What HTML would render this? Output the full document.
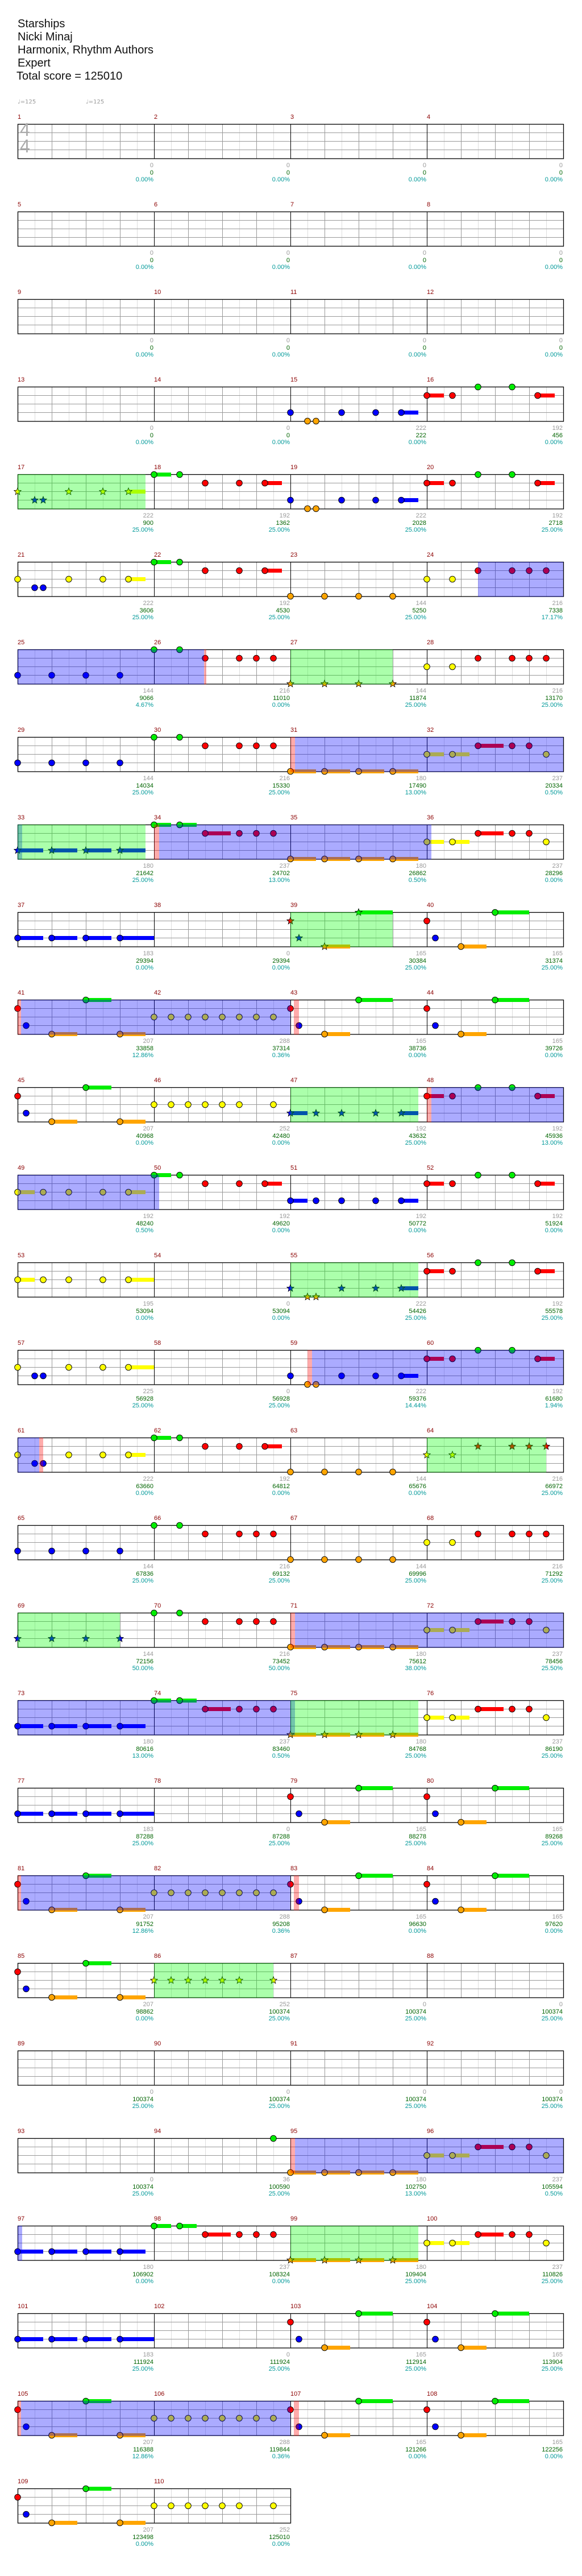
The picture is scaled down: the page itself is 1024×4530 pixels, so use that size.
<!DOCTYPE html>
<html><head><meta charset="utf-8">
<style>
html,body{margin:0;padding:0;background:#fff;}
body{width:1024px;height:4530px;position:relative;overflow:hidden;font-family:"Liberation Sans","DejaVu Sans",sans-serif;}
#hd{position:absolute;left:31px;top:31px;font-size:20px;line-height:23px;color:#111;}
.tp{position:absolute;top:174px;font-size:10px;color:#999;font-family:"DejaVu Sans","Liberation Sans",sans-serif;}
#ts{position:absolute;left:35px;top:214px;font-size:32px;line-height:29px;color:#aaa;}
svg{position:absolute;left:0;top:0;}
.r{position:absolute;left:31px;width:960px;height:120px;font-size:11px;}
.r p{position:absolute;margin:0;width:240px;height:120px;top:0;color:#8b0000;line-height:11px;}
.r p:nth-child(1){left:0}.r p:nth-child(2){left:240px}.r p:nth-child(3){left:480px}.r p:nth-child(4){left:720px}
.r q{quotes:none;position:absolute;right:1px;top:84px;text-align:right;color:#999;line-height:12.5px;white-space:nowrap;}
.r q:before,.r q:after{content:none}
.r em{font-style:normal;color:#006400}
.r s{text-decoration:none;color:#009999}
</style></head><body>
<svg id="sv" width="1024" height="4530" xmlns="http://www.w3.org/2000/svg"></svg>
<div id="hd">Starships<br>Nicki Minaj<br>Harmonix, Rhythm Authors<br>Expert<br><span style="margin-left:-2px">Total score = 125010</span></div>
<div class="tp" style="left:31px">♩=125</div>
<div class="tp" style="left:151px">♩=125</div>
<div id="ts">4<br>4</div>

<div class="r" style="top:201px"><p>1<q>0<br><em>0</em><br><s>0.00%</s></q></p><p>2<q>0<br><em>0</em><br><s>0.00%</s></q></p><p>3<q>0<br><em>0</em><br><s>0.00%</s></q></p><p>4<q>0<br><em>0</em><br><s>0.00%</s></q></p></div>
<div class="r" style="top:355px"><p>5<q>0<br><em>0</em><br><s>0.00%</s></q></p><p>6<q>0<br><em>0</em><br><s>0.00%</s></q></p><p>7<q>0<br><em>0</em><br><s>0.00%</s></q></p><p>8<q>0<br><em>0</em><br><s>0.00%</s></q></p></div>
<div class="r" style="top:509px"><p>9<q>0<br><em>0</em><br><s>0.00%</s></q></p><p>10<q>0<br><em>0</em><br><s>0.00%</s></q></p><p>11<q>0<br><em>0</em><br><s>0.00%</s></q></p><p>12<q>0<br><em>0</em><br><s>0.00%</s></q></p></div>
<div class="r" style="top:663px"><p>13<q>0<br><em>0</em><br><s>0.00%</s></q></p><p>14<q>0<br><em>0</em><br><s>0.00%</s></q></p><p>15<q>222<br><em>222</em><br><s>0.00%</s></q></p><p>16<q>192<br><em>456</em><br><s>0.00%</s></q></p></div>
<div class="r" style="top:817px"><p>17<q>222<br><em>900</em><br><s>25.00%</s></q></p><p>18<q>192<br><em>1362</em><br><s>25.00%</s></q></p><p>19<q>222<br><em>2028</em><br><s>25.00%</s></q></p><p>20<q>192<br><em>2718</em><br><s>25.00%</s></q></p></div>
<div class="r" style="top:971px"><p>21<q>222<br><em>3606</em><br><s>25.00%</s></q></p><p>22<q>192<br><em>4530</em><br><s>25.00%</s></q></p><p>23<q>144<br><em>5250</em><br><s>25.00%</s></q></p><p>24<q>216<br><em>7338</em><br><s>17.17%</s></q></p></div>
<div class="r" style="top:1125px"><p>25<q>144<br><em>9066</em><br><s>4.67%</s></q></p><p>26<q>216<br><em>11010</em><br><s>0.00%</s></q></p><p>27<q>144<br><em>11874</em><br><s>25.00%</s></q></p><p>28<q>216<br><em>13170</em><br><s>25.00%</s></q></p></div>
<div class="r" style="top:1279px"><p>29<q>144<br><em>14034</em><br><s>25.00%</s></q></p><p>30<q>216<br><em>15330</em><br><s>25.00%</s></q></p><p>31<q>180<br><em>17490</em><br><s>13.00%</s></q></p><p>32<q>237<br><em>20334</em><br><s>0.50%</s></q></p></div>
<div class="r" style="top:1433px"><p>33<q>180<br><em>21642</em><br><s>25.00%</s></q></p><p>34<q>237<br><em>24702</em><br><s>13.00%</s></q></p><p>35<q>180<br><em>26862</em><br><s>0.50%</s></q></p><p>36<q>237<br><em>28296</em><br><s>0.00%</s></q></p></div>
<div class="r" style="top:1587px"><p>37<q>183<br><em>29394</em><br><s>0.00%</s></q></p><p>38<q>0<br><em>29394</em><br><s>0.00%</s></q></p><p>39<q>165<br><em>30384</em><br><s>25.00%</s></q></p><p>40<q>165<br><em>31374</em><br><s>25.00%</s></q></p></div>
<div class="r" style="top:1741px"><p>41<q>207<br><em>33858</em><br><s>12.86%</s></q></p><p>42<q>288<br><em>37314</em><br><s>0.36%</s></q></p><p>43<q>165<br><em>38736</em><br><s>0.00%</s></q></p><p>44<q>165<br><em>39726</em><br><s>0.00%</s></q></p></div>
<div class="r" style="top:1895px"><p>45<q>207<br><em>40968</em><br><s>0.00%</s></q></p><p>46<q>252<br><em>42480</em><br><s>0.00%</s></q></p><p>47<q>192<br><em>43632</em><br><s>25.00%</s></q></p><p>48<q>192<br><em>45936</em><br><s>13.00%</s></q></p></div>
<div class="r" style="top:2049px"><p>49<q>192<br><em>48240</em><br><s>0.50%</s></q></p><p>50<q>192<br><em>49620</em><br><s>0.00%</s></q></p><p>51<q>192<br><em>50772</em><br><s>0.00%</s></q></p><p>52<q>192<br><em>51924</em><br><s>0.00%</s></q></p></div>
<div class="r" style="top:2203px"><p>53<q>195<br><em>53094</em><br><s>0.00%</s></q></p><p>54<q>0<br><em>53094</em><br><s>0.00%</s></q></p><p>55<q>222<br><em>54426</em><br><s>25.00%</s></q></p><p>56<q>192<br><em>55578</em><br><s>25.00%</s></q></p></div>
<div class="r" style="top:2357px"><p>57<q>225<br><em>56928</em><br><s>25.00%</s></q></p><p>58<q>0<br><em>56928</em><br><s>25.00%</s></q></p><p>59<q>222<br><em>59376</em><br><s>14.44%</s></q></p><p>60<q>192<br><em>61680</em><br><s>1.94%</s></q></p></div>
<div class="r" style="top:2511px"><p>61<q>222<br><em>63660</em><br><s>0.00%</s></q></p><p>62<q>192<br><em>64812</em><br><s>0.00%</s></q></p><p>63<q>144<br><em>65676</em><br><s>0.00%</s></q></p><p>64<q>216<br><em>66972</em><br><s>25.00%</s></q></p></div>
<div class="r" style="top:2665px"><p>65<q>144<br><em>67836</em><br><s>25.00%</s></q></p><p>66<q>216<br><em>69132</em><br><s>25.00%</s></q></p><p>67<q>144<br><em>69996</em><br><s>25.00%</s></q></p><p>68<q>216<br><em>71292</em><br><s>25.00%</s></q></p></div>
<div class="r" style="top:2819px"><p>69<q>144<br><em>72156</em><br><s>50.00%</s></q></p><p>70<q>216<br><em>73452</em><br><s>50.00%</s></q></p><p>71<q>180<br><em>75612</em><br><s>38.00%</s></q></p><p>72<q>237<br><em>78456</em><br><s>25.50%</s></q></p></div>
<div class="r" style="top:2973px"><p>73<q>180<br><em>80616</em><br><s>13.00%</s></q></p><p>74<q>237<br><em>83460</em><br><s>0.50%</s></q></p><p>75<q>180<br><em>84768</em><br><s>25.00%</s></q></p><p>76<q>237<br><em>86190</em><br><s>25.00%</s></q></p></div>
<div class="r" style="top:3127px"><p>77<q>183<br><em>87288</em><br><s>25.00%</s></q></p><p>78<q>0<br><em>87288</em><br><s>25.00%</s></q></p><p>79<q>165<br><em>88278</em><br><s>25.00%</s></q></p><p>80<q>165<br><em>89268</em><br><s>25.00%</s></q></p></div>
<div class="r" style="top:3281px"><p>81<q>207<br><em>91752</em><br><s>12.86%</s></q></p><p>82<q>288<br><em>95208</em><br><s>0.36%</s></q></p><p>83<q>165<br><em>96630</em><br><s>0.00%</s></q></p><p>84<q>165<br><em>97620</em><br><s>0.00%</s></q></p></div>
<div class="r" style="top:3435px"><p>85<q>207<br><em>98862</em><br><s>0.00%</s></q></p><p>86<q>252<br><em>100374</em><br><s>25.00%</s></q></p><p>87<q>0<br><em>100374</em><br><s>25.00%</s></q></p><p>88<q>0<br><em>100374</em><br><s>25.00%</s></q></p></div>
<div class="r" style="top:3589px"><p>89<q>0<br><em>100374</em><br><s>25.00%</s></q></p><p>90<q>0<br><em>100374</em><br><s>25.00%</s></q></p><p>91<q>0<br><em>100374</em><br><s>25.00%</s></q></p><p>92<q>0<br><em>100374</em><br><s>25.00%</s></q></p></div>
<div class="r" style="top:3743px"><p>93<q>0<br><em>100374</em><br><s>25.00%</s></q></p><p>94<q>36<br><em>100590</em><br><s>25.00%</s></q></p><p>95<q>180<br><em>102750</em><br><s>13.00%</s></q></p><p>96<q>237<br><em>105594</em><br><s>0.50%</s></q></p></div>
<div class="r" style="top:3897px"><p>97<q>180<br><em>106902</em><br><s>0.00%</s></q></p><p>98<q>237<br><em>108324</em><br><s>0.00%</s></q></p><p>99<q>180<br><em>109404</em><br><s>25.00%</s></q></p><p>100<q>237<br><em>110826</em><br><s>25.00%</s></q></p></div>
<div class="r" style="top:4051px"><p>101<q>183<br><em>111924</em><br><s>25.00%</s></q></p><p>102<q>0<br><em>111924</em><br><s>25.00%</s></q></p><p>103<q>165<br><em>112914</em><br><s>25.00%</s></q></p><p>104<q>165<br><em>113904</em><br><s>25.00%</s></q></p></div>
<div class="r" style="top:4205px"><p>105<q>207<br><em>116388</em><br><s>12.86%</s></q></p><p>106<q>288<br><em>119844</em><br><s>0.36%</s></q></p><p>107<q>165<br><em>121266</em><br><s>0.00%</s></q></p><p>108<q>165<br><em>122256</em><br><s>0.00%</s></q></p></div>
<div class="r" style="top:4359px"><p>109<q>207<br><em>123498</em><br><s>0.00%</s></q></p><p>110<q>252<br><em>125010</em><br><s>0.00%</s></q></p></div>

<script>
(function(){
var P={
15:"B0 O.5 O.75 B1.5 B2.5 B3.25-3.75",
16:"R0-.5 R.75 G1.5 G2.5 R3.25-3.75",
17:"y0 b.5 b.75 y1.5 y2.5 y3.25-3.75",
18:"G0-.5 G.75 R1.5 R2.5 R3.25-3.75",
21:"Y0 B.5 B.75 Y1.5 Y2.5 Y3.25-3.75",
23:"O0 O1 O2 O3",
24:"Y0 Y.75 R1.5 R2.5 R3 R3.5",
25:"B0 B1 B2 B3",
26:"G0 G.75 R1.5 R2.5 R3 R3.5",
27:"o0 o1 o2 o3",
31:"O0-.75 O1-1.75 O2-2.75 O3-3.75",
32:"Y0-.5 Y.75-1.25 R1.5-2.25 R2.5 R3 Y3.5",
33:"b0-.75 b1-1.75 b2-2.75 b3-3.75",
34:"G0-.5 G.75-1.25 R1.5-2.25 R2.5 R3 R3.5",
37:"B0-.75 B1-1.75 B2-2.75 B3-4",
39:"r0 b.25 o1-1.75 g2-3",
40:"R0 B.25 O1-1.75 G2-3",
41:"R0 B.25 O1-1.75 G2-2.75 O3-3.75",
42:"Y0 Y.5 Y1 Y1.5 Y2 Y2.5 Y3 Y3.5",
46:"Y0 Y.5 Y1 Y1.5 Y2 Y2.5 Y3.5",
47:"b0-.5 b.75 b1.5 b2.5 b3.25-3.75",
49:"Y0-.5 Y.75 Y1.5 Y2.5 Y3.25-3.75",
51:"B0-.5 B.75 B1.5 B2.5 B3.25-3.75",
53:"Y0-.5 Y.75 Y1.5 Y2.5 Y3.25-4",
55:"b0 o.5 o.75 b1.5 b2.5 b3.25-3.75",
57:"Y0 B.5 B.75 Y1.5 Y2.5 Y3.25-4",
64:"y0 y.75 r1.5 r2.5 r3 r3.5",
69:"b0 b1 b2 b3",
73:"B0-.75 B1-1.75 B2-2.75 B3-3.75",
75:"o0-.75 o1-1.75 o2-2.75 o3-3.75",
86:"y0 y.5 y1 y1.5 y2 y2.5 y3.5",
94:"G3.5",0:""};
var seq=[0,0,0,0,0,0,0,0,0,0,0,0,0,0,15,16,17,18,15,16,21,18,23,24,
25,26,27,24,25,26,31,32,33,34,31,32,37,0,39,40,
41,42,40,40,41,46,47,16,49,18,51,16,53,0,55,16,
57,0,15,16,21,18,23,64,25,26,23,24,69,26,31,32,
73,34,75,32,37,0,40,40,41,42,40,40,41,86,0,0,
0,0,0,0,0,94,31,32,73,34,75,32,37,0,40,40,41,42,40,40,41,46];
var OV={
4:[["g",31,256]],
5:[["b",841,991]],
6:[["b",31,359],["p",359,363],["g",511,691]],
7:[["p",511,519],["b",519,991]],
8:[["b",31,39],["g",31,256],["p",271,280],["b",280,759]],
9:[["g",511,691]],
10:[["p",31,37],["b",37,511],["p",517,526]],
11:[["g",511,736],["p",751,759],["b",759,991]],
12:[["b",31,280]],
13:[["g",511,736]],
14:[["p",541,549],["b",549,991]],
15:[["b",31,69],["p",69,76],["g",751,961]],
17:[["g",31,211],["p",511,519],["b",519,991]],
18:[["b",31,519],["g",511,736]],
20:[["p",31,37],["b",37,511],["p",517,526]],
21:[["g",271,481]],
23:[["p",511,519],["b",519,991]],
24:[["b",31,39],["g",511,736]],
26:[["p",31,37],["b",37,511],["p",517,526]]
};
var COL=["#00ee00","#ff0000","#ffff00","#0000ff","#ffa500"];
var OC={g:"rgba(0,255,0,0.33)",b:"rgba(0,0,255,0.33)",p:"rgba(255,0,0,0.33)"};
function star(cx,cy,R,r){var p=[];for(var i=0;i<10;i++){var a=-Math.PI/2+i*Math.PI/5,rr=i%2?r:R;p.push((cx+rr*Math.cos(a)).toFixed(1)+","+(cy+rr*Math.sin(a)).toFixed(1));}return p.join(" ");}
var s="";
for(var row=0;row<28;row++){
  var top=218+154*row,nm=row==27?2:4,W=240*nm,x0=31;
  var g="";
  for(var k=0;k<nm*8;k++){var x=x0+30*k;if(k==0)continue;
    if(k%8==0)continue;
    g+='<line x1="'+(x+.5)+'" y1="'+top+'" x2="'+(x+.5)+'" y2="'+(top+61)+'" stroke="'+(k%2?"#dddddd":"#999999")+'"/>';}
  for(var h=1;h<4;h++){g+='<line x1="'+x0+'" y1="'+(top+15*h+.5)+'" x2="'+(x0+W)+'" y2="'+(top+15*h+.5)+'" stroke="#999"/>';}
  for(var mm=1;mm<nm;mm++){var xm=x0+240*mm+.5;g+='<line x1="'+xm+'" y1="'+top+'" x2="'+xm+'" y2="'+(top+61)+'" stroke="#000"/>';}
  g+='<rect x="'+(x0+.5)+'" y="'+(top+.5)+'" width="'+W+'" height="'+60.5+'" fill="none" stroke="#000" stroke-width="1.3"/>';
  var sus="",nt="";
  for(var mm=0;mm<nm;mm++){
    var idx=row*4+mm;var pat=P[seq[idx]]||"";if(!pat)continue;
    pat.split(" ").forEach(function(t){
      var c=t[0],ln="GRYBO".indexOf(c.toUpperCase()),isStar=(c!=c.toUpperCase());
      var pr=t.slice(1).split("-");var b=parseFloat(pr[0]);
      var x=x0+240*mm+b*60,y=ln==4?top+60.5:top+15*ln+.5;
      if(pr.length>1){var e=x0+240*mm+parseFloat(pr[1])*60;sus+='<rect x="'+x+'" y="'+(y-3.5)+'" width="'+(e-x)+'" height="7" fill="'+COL[ln]+'"/>';}
      if(isStar)nt+='<polygon points="'+star(x,y,6.5,2.8)+'" fill="'+COL[ln]+'" stroke="#000" stroke-width="0.8"/>';
      else nt+='<circle cx="'+x+'" cy="'+y+'" r="5.3" fill="'+COL[ln]+'" stroke="#000" stroke-width="0.9"/>';
    });
  }
  var ov="";(OV[row]||[]).forEach(function(o){ov+='<rect x="'+o[1]+'" y="'+top+'" width="'+(o[2]-o[1])+'" height="61.5" fill="'+OC[o[0]]+'"/>';});
  s+=g+sus+nt+ov;
}
document.getElementById("sv").innerHTML=s;
})();
</script>
</body></html>
